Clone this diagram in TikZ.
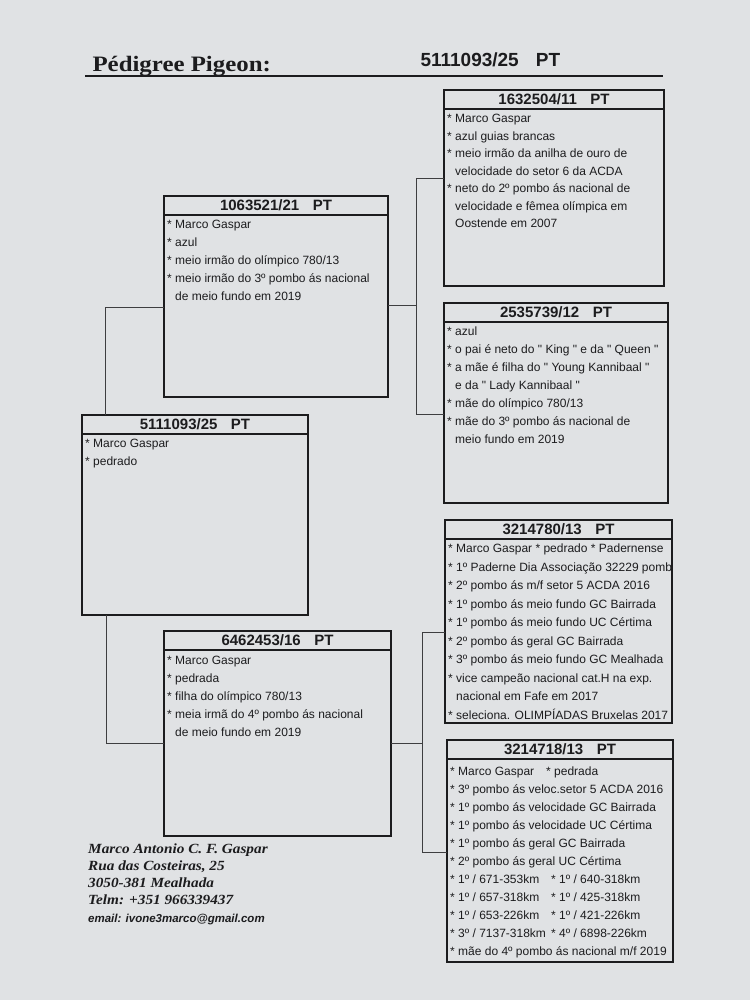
\documentclass[tikz,border=0pt]{standalone}
\usepackage{fontspec}
\setmainfont{Liberation Serif}
\setsansfont{Liberation Sans}[Ligatures=TeXOff]
\newfontfamily\antiqua[FakeStretch=1.13]{Liberation Serif}
\newfontfamily\antiquait[FakeStretch=1.09]{Liberation Serif}
\usetikzlibrary{positioning, calc}
\definecolor{paper}{RGB}{224,226,228}
\definecolor{ink}{RGB}{28,28,30}
\newcommand{\pind}{\hphantom{*\ }}

\begin{document}
\begin{tikzpicture}[x=1pt, y=-1pt,
  pedbox/.style={draw=ink, line width=1.4pt, anchor=north west, inner sep=0pt, outer sep=0pt},
  hdr/.style={ink, font=\sffamily\bfseries\fontsize{15}{15}\selectfont},
  info/.style={ink, anchor=north west, align=left, inner sep=0pt, font=\sffamily\fontsize{12}{18}\selectfont},
  link/.style={draw=ink!85, line width=0.9pt}]
  \fill[paper] (0,0) rectangle (750,1000);
  \useasboundingbox (0,0) rectangle (750,1000);

  % heading
  \node[ink, anchor=base west, font=\antiqua\bfseries\fontsize{22}{22}\selectfont] (title) at (89,72) {Pédigree Pigeon:};
  \node[ink, anchor=base west, font=\sffamily\bfseries\fontsize{19}{19}\selectfont] (ring) at (417,67) {5111093/25\hspace{0.9em}PT};
  \draw[ink, line width=2pt] (85,76) -- (663,76);

  % boxes
  \node[pedbox, minimum width=226pt, minimum height=200pt] (subj) at (82,415) {};
  \node[pedbox, minimum width=224pt, minimum height=201pt] (sire) at (164,196) {};
  \node[pedbox, minimum width=227pt, minimum height=205pt] (dam) at (164,631) {};
  \node[pedbox, minimum width=220pt, minimum height=196pt] (ss) at (444,90) {};
  \node[pedbox, minimum width=224pt, minimum height=200pt] (sd) at (444,303) {};
  \node[pedbox, minimum width=227pt, minimum height=203pt] (ds) at (445,520) {};
  \node[pedbox, minimum width=226pt, minimum height=222pt] (dd) at (447,740) {};

  \foreach \b in {subj, sire, dam, ss, sd, ds, dd}
    \draw[ink, line width=1.4pt] ([yshift=-19pt]\b.north west) -- ([yshift=-19pt]\b.north east);

  \node[hdr] (subjh) at ([yshift=-9.5pt]subj.north) {5111093/25\hspace{0.9em}PT};
  \node[hdr] (sireh) at ([yshift=-9.5pt]sire.north) {1063521/21\hspace{0.9em}PT};
  \node[hdr] (damh) at ([yshift=-9.5pt]dam.north) {6462453/16\hspace{0.9em}PT};
  \node[hdr] (ssh) at ([yshift=-9.5pt]ss.north) {1632504/11\hspace{0.9em}PT};
  \node[hdr] (sdh) at ([yshift=-9.5pt]sd.north) {2535739/12\hspace{0.9em}PT};
  \node[hdr] (dsh) at ([yshift=-9.5pt]ds.north) {3214780/13\hspace{0.9em}PT};
  \node[hdr] (ddh) at ([yshift=-9.5pt]dd.north) {3214718/13\hspace{0.9em}PT};

  % texts
  \node[info] (subjt) at ([xshift=3pt, yshift=-24pt]subj.north west)
    {* Marco Gaspar\\* pedrado};
  \node[info] (siret) at ([xshift=3pt, yshift=-24pt]sire.north west)
    {* Marco Gaspar\\* azul\\* meio irmão do olímpico 780/13\\
     * meio irmão do 3º pombo ás nacional\\\pind de meio fundo em 2019};
  \node[info] (damt) at ([xshift=3pt, yshift=-25pt]dam.north west)
    {* Marco Gaspar\\* pedrada\\* filha do olímpico 780/13\\
     * meia irmã do 4º pombo ás nacional\\\pind de meio fundo em 2019};
  \node[info, font=\sffamily\fontsize{12}{17.5}\selectfont] (sst) at ([xshift=3pt, yshift=-24pt]ss.north west)
    {* Marco Gaspar\\* azul guias brancas\\* meio irmão da anilha de ouro de\\
     \pind velocidade do setor 6 da ACDA\\* neto do 2º pombo ás nacional de\\
     \pind velocidade e fêmea olímpica em\\\pind Oostende em 2007};
  \node[info] (sdt) at ([xshift=3pt, yshift=-24pt]sd.north west)
    {* azul\\* o pai é neto do " King " e da " Queen "\\
     * a mãe é filha do " Young Kannibaal "\\\pind e da " Lady Kannibaal "\\
     * mãe do olímpico 780/13\\* mãe do 3º pombo ás nacional de\\\pind meio fundo em 2019};
  \node[info, font=\sffamily\fontsize{12}{18.5}\selectfont] (dst) at ([xshift=3pt, yshift=-24pt]ds.north west)
    {* Marco Gaspar * pedrado * Padernense\\* 1º Paderne Dia Associação 32229 pomb\\
     * 2º pombo ás m/f setor 5 ACDA 2016\\* 1º pombo ás meio fundo GC Bairrada\\
     * 1º pombo ás meio fundo UC Cértima\\* 2º pombo ás geral GC Bairrada\\
     * 3º pombo ás meio fundo GC Mealhada\\* vice campeão nacional cat.H na exp.\\
     \pind nacional em Fafe em 2017\\* seleciona. OLIMPÍADAS Bruxelas 2017};
  \node[info] (ddt) at ([xshift=3pt, yshift=-27pt]dd.north west)
    {\makebox[96pt][l]{* Marco Gaspar}* pedrada\\
     * 3º pombo ás veloc.setor 5 ACDA 2016\\* 1º pombo ás velocidade GC Bairrada\\
     * 1º pombo ás velocidade UC Cértima\\* 1º pombo ás geral GC Bairrada\\
     * 2º pombo ás geral UC Cértima\\
     \makebox[101pt][l]{* 1º / 671-353km}* 1º / 640-318km\\
     \makebox[101pt][l]{* 1º / 657-318km}* 1º / 425-318km\\
     \makebox[101pt][l]{* 1º / 653-226km}* 1º / 421-226km\\
     \makebox[101pt][l]{* 3º / 7137-318km}* 4º / 6898-226km\\
     * mãe do 4º pombo ás nacional m/f 2019};

  % connectors
  \coordinate (j1) at (105,307);
  \coordinate (j2) at (106,743);
  \draw[link] (subj.north -| j1) -- (j1) -- (j1 -| sire.west);
  \draw[link] (subj.south -| j2) -- (j2) -- (j2 -| dam.west);

  \coordinate (j3) at (416,305);
  \coordinate (j3a) at (416,178);
  \coordinate (j3b) at (416,414);
  \draw[link] (j3 -| sire.east) -- (j3);
  \draw[link] (j3a -| ss.west) -- (j3a) -- (j3b) -- (j3b -| sd.west);

  \coordinate (j4) at (422,743);
  \coordinate (j4a) at (422,632);
  \coordinate (j4b) at (422,852);
  \draw[link] (j4 -| dam.east) -- (j4);
  \draw[link] (j4a -| ds.west) -- (j4a) -- (j4b) -- (j4b -| dd.west);

  % breeder
  \node[ink, anchor=north west, align=left, inner sep=0pt, font=\antiquait\bfseries\itshape\fontsize{14}{17}\selectfont] (addr) at (88,844)
    {Marco Antonio C. F. Gaspar\\Rua das Costeiras, 25\\3050-381 Mealhada\\Telm: +351 966339437};
  \node[ink, anchor=north west, inner sep=0pt, font=\sffamily\bfseries\itshape\fontsize{11.5}{14}\selectfont] (mail) at (88,914)
    {email: ivone3marco@gmail.com};
\end{tikzpicture}
\end{document}
